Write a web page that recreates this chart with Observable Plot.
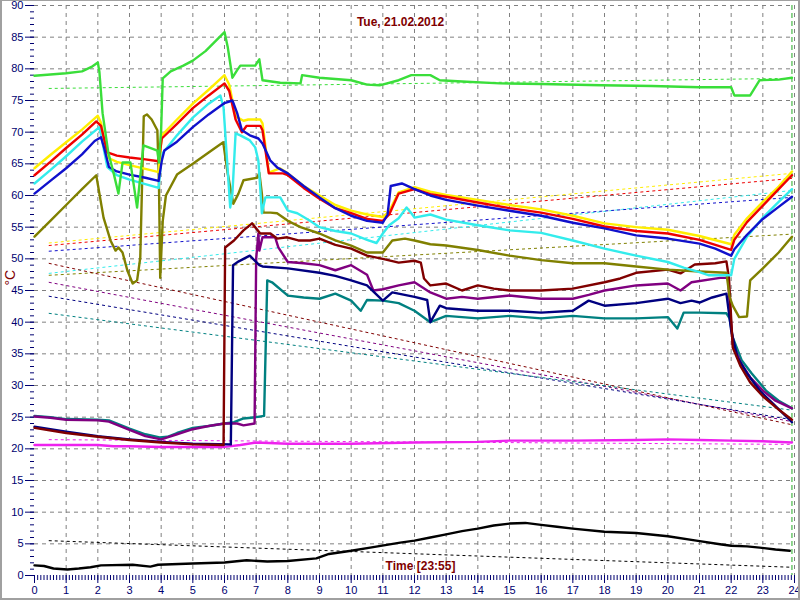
<!DOCTYPE html>
<html><head><meta charset="utf-8">
<script src="https://cdn.jsdelivr.net/npm/d3@7"></script>
<script src="https://cdn.jsdelivr.net/npm/@observablehq/plot@0.6"></script>
<style>
html,body{margin:0;padding:0;background:#fff;}
#wrap{position:relative;width:800px;height:600px;overflow:hidden;background:#fff;}
#wrap svg{display:block;}
#border{position:absolute;left:0;top:0;width:800px;height:600px;box-sizing:border-box;border:2px solid #a0a0a0;border-top-width:1px;pointer-events:none;}
</style></head><body><div id="wrap"><div id="border"></div></div>
<script>
// ---- data (hour, °C) ----
const title = "Tue, 21.02.2012";
const timeLabel = "Time [23:55]";
const cursorHour = 23.92;
const xTicks = d3.range(0, 25);
const yTicks = d3.range(0, 91, 5);

const green = [[0,78.9],[0.5,79.1],[1,79.3],[1.5,79.6],[1.8,80.3],[2.0,81.0],[2.05,79.5],[2.15,73],[2.33,66.8],[2.5,63.5],[2.65,60.3],[2.78,65.2],[3.03,65.2],[3.24,58.1],[3.44,67.9],[3.88,67.1],[3.93,65.2],[4.0,70.5],[4.05,78.5],[4.3,79.6],[4.7,80.5],[5.0,81.3],[5.4,82.8],[5.7,84.3],[6.0,85.8],[6.1,83.5],[6.25,78.6],[6.4,79.8],[6.5,80.5],[6.97,80.5],[7.1,81.5],[7.2,78.2],[7.76,77.8],[8.4,77.7],[8.45,79],[9,78.6],[9.5,78.4],[10,78.2],[10.5,77.5],[10.9,77.4],[11.5,78.2],[11.9,79],[12.5,79],[12.8,78.2],[13.5,78],[14.7,77.7],[16,77.6],[17.9,77.4],[19.5,77.3],[21,77.1],[22,77.1],[22.1,75.8],[22.6,75.8],[22.9,78.2],[23.5,78.3],[23.92,78.6]];
const yellow = [[0,64.3],[0.5,66.4],[1,68.4],[1.5,70.4],[2.0,72.6],[2.1,71.5],[2.3,66],[2.6,65.3],[3.0,64.8],[3.5,64.2],[3.92,63.7],[4.02,69.5],[4.5,72],[5,74.5],[5.5,76.7],[6.0,79],[6.15,77.5],[6.35,72.5],[6.6,71.8],[6.75,72],[7.13,72],[7.2,71.4],[7.4,63.6],[7.75,64.3],[8.0,63.5],[8.5,61.5],[9.0,60],[9.5,58.5],[10.0,57.6],[10.5,57],[11.0,56.6],[11.2,57.5],[11.5,60.5],[12.0,61.3],[12.5,60.6],[13,60.1],[14,59.3],[15,58.5],[16,57.8],[17,56.8],[18,55.6],[19,55],[20,54.6],[21,53.6],[22,52.3],[22.1,53.8],[22.5,56.4],[23,59],[23.5,61.4],[23.92,63.8]];
const red = [[0,63.2],[0.5,65.3],[1,67.5],[1.5,69.6],[1.95,71.7],[2.1,71],[2.3,66.8],[2.6,66.3],[3,66],[3.5,65.7],[3.92,65.4],[4.02,69],[4.5,71.3],[5,73.8],[5.5,75.8],[6,77.7],[6.15,76.5],[6.35,72],[6.55,70],[6.7,71],[7.13,71],[7.2,70.3],[7.4,63.5],[7.85,63.5],[8,63.2],[8.5,61.2],[9,59.5],[9.5,58],[10,57.2],[10.5,56.3],[11,56],[11.2,57],[11.5,60.3],[12,61],[12.5,60.2],[13,59.8],[14,58.9],[15,58],[16,57.3],[17,56.3],[18,55.1],[19,54.4],[20,54],[21,53],[22,51.4],[22.1,53],[22.5,55.8],[23,58.4],[23.5,61],[23.92,63.2]];
const cyan = [[0,61.9],[0.5,64],[1,66.2],[1.5,68.5],[2.05,70.8],[2.3,64.5],[2.6,63.2],[3,62.5],[3.5,61.8],[3.92,61.2],[4.02,66.5],[4.5,69.5],[5,72.3],[5.5,74.5],[5.87,75.8],[5.97,73.9],[6.18,58.1],[6.25,60.3],[6.35,69.8],[6.5,69.5],[6.8,68.7],[6.97,67.6],[7.07,65.5],[7.18,57.2],[7.29,59.7],[7.76,59.7],[8.0,57.6],[8.3,57.2],[8.7,56],[9,55],[9.5,54.4],[10,54],[10.5,53],[10.8,52.5],[11,54],[11.2,55.3],[11.5,56.4],[11.75,58.1],[11.9,57.2],[12,56.5],[12.5,57],[13,56.2],[14,55.3],[15,54.5],[16,54.1],[17,52.9],[18,51.6],[19,50.5],[20,49.5],[20.5,48.6],[21,47.9],[21.3,47.4],[22,47.4],[22.1,50],[22.5,53.5],[23,56.5],[23.5,59],[23.92,61]];
const blue = [[0,60.3],[0.5,62.3],[1,64.3],[1.5,66.5],[1.9,68.6],[2.1,69.2],[2.2,67.5],[2.35,64.5],[2.6,63.8],[3,63.3],[3.5,62.8],[3.92,62.3],[4.02,65.5],[4.1,67.1],[4.5,68.5],[5,70.8],[5.5,72.8],[6,74.6],[6.25,75],[6.4,73],[6.55,70.3],[6.8,69.5],[7.07,69],[7.2,68.2],[7.45,65.5],[7.67,64.4],[8,63.5],[8.5,61.5],[9,59.7],[9.5,58],[10,56.8],[10.5,56],[11,55.7],[11.15,57],[11.25,61.5],[11.6,61.9],[12,61],[12.5,60],[13,59.3],[14,58.4],[15,57.6],[16,56.8],[17,55.7],[18,54.8],[19,53.7],[20,53.2],[21,52.4],[21.5,51.6],[22,50.5],[22.1,51.5],[22.5,53.8],[23,56.3],[23.5,58.2],[23.92,59.8]];
const olive = [[0,53.5],[0.5,56],[1,58.5],[1.5,61],[1.95,63.2],[2.18,56.5],[2.4,52.9],[2.56,51.3],[2.65,51.8],[2.78,51],[2.93,48.2],[3.1,46.1],[3.24,46.6],[3.34,50.2],[3.45,72.5],[3.55,72.8],[3.7,72],[3.88,70.3],[3.93,62],[3.97,47],[4.05,56],[4.15,60],[4.5,63.3],[5,65],[5.5,66.8],[5.96,68.4],[6.1,63.5],[6.28,58.7],[6.44,60.3],[6.6,62.4],[7.03,62.8],[7.1,63.6],[7.18,60.3],[7.23,57.3],[7.45,57.3],[7.66,57.2],[8,56],[8.4,55],[9,54],[9.5,52.9],[10,52.1],[10.5,51],[11,51],[11.3,52.9],[11.7,53.2],[12,52.9],[12.5,52.3],[13,52.1],[14,51.4],[15,50.5],[16,49.8],[17,49.3],[18,49.3],[19,48.8],[20,48.3],[21,48],[21.85,47.8],[21.95,44],[22.05,42.6],[22.25,40.8],[22.5,40.9],[22.6,46.6],[23,48.5],[23.5,51],[23.92,53.5]];
const maroon = [[0,23.3],[1,22.5],[2,21.9],[3,21.4],[4,21],[5,20.7],[5.97,20.6],[6.02,51.8],[6.3,52.9],[6.6,54.5],[6.87,55.6],[7.13,54],[7.45,54],[7.66,53.2],[7.98,53.4],[8.33,52.9],[8.7,52.9],[9,53.2],[9.5,52.2],[10,51.6],[10.5,50.5],[11,50],[11.5,49.4],[12,49.7],[12.2,49.4],[12.3,46.9],[12.5,45.8],[13,46.1],[13.5,45],[14,45.8],[14.5,45.3],[15,45],[16,45],[17,45.3],[18,46.3],[18.5,46.9],[19,47.8],[20,48.3],[20.4,47.7],[20.85,49.1],[21.5,49.3],[21.85,49.6],[21.93,47],[22.05,36],[22.3,33],[22.6,30.5],[23,28.3],[23.5,26.2],[23.92,24.6]];
const purple = [[0,25.1],[0.5,24.9],[1,24.6],[2,24.5],[2.35,24.3],[3,23],[3.5,22],[4,21.5],[4.5,22.3],[5,23.1],[5.5,23.6],[6,24],[6.4,24],[6.6,23.7],[6.95,24],[7.0,50],[7.07,54],[7.1,51.3],[7.2,53.4],[7.6,53.4],[7.7,51.8],[8,49.5],[8.5,49.3],[9,49],[9.5,48.2],[10,49],[10.5,47.5],[10.7,45],[11,45.2],[11.5,45.8],[12,46.3],[12.5,44.7],[13,43.7],[13.5,44],[14,43.7],[15,44.2],[16,43.7],[17,43.7],[17.5,44.3],[18,45],[19,45.8],[20,46.1],[20.4,45],[20.75,46.3],[21.65,47],[21.9,47],[21.96,42.3],[22.05,36.6],[22.3,33.6],[22.6,31.3],[23,29.2],[23.4,27.6],[23.92,26.4]];
const navy = [[0,23.5],[1,22.7],[2,22],[3,21.5],[4,21.1],[5,20.8],[6.2,20.7],[6.27,49],[6.45,49.6],[6.8,50.5],[7.1,49],[7.2,48.8],[8,48.5],[9,47.8],[9.5,47.3],[10,46.6],[10.5,45.8],[11,43.4],[11.3,44.7],[12,44],[12.4,43.5],[12.5,40],[12.8,42.6],[13,42.2],[14,41.8],[15,41.8],[16,41.5],[17,41.8],[17.5,43.4],[18,42.6],[19,43],[20,43.7],[20.4,43],[20.75,43.4],[21,43.1],[21.4,43.9],[21.85,44.5],[22.0,38.7],[22.2,34.4],[22.5,31.9],[22.9,29.2],[23.45,26.5],[23.92,24.2]];
const teal = [[0,25.2],[0.5,25],[1,24.7],[2,24.6],[2.35,24.5],[3,23.2],[3.5,22.3],[3.95,21.8],[4.2,21.9],[4.5,22.5],[5,23.3],[5.5,23.6],[6,24],[6.3,24.2],[6.6,24.8],[7.0,25],[7.25,25.2],[7.35,46.6],[7.5,46.3],[8,44.2],[8.5,43.9],[9,43.7],[9.5,44.5],[10,43.4],[10.3,41.8],[10.5,43.5],[11,43.4],[11.5,43],[12,41.8],[12.5,40],[13,41],[14,40.6],[15,41],[16,40.6],[17,41],[18,40.6],[19,40.6],[20,40.8],[20.3,39],[20.5,41.5],[21,41.5],[21.85,41.4],[21.95,40.6],[22.05,37.6],[22.33,34],[22.65,31.9],[23.1,29.2],[23.5,27.6],[23.92,26.4]];
const magenta = [[0,20.6],[1,20.6],[2,20.6],[2.5,20.4],[3,20.4],[4,20.3],[5,20.3],[6,20.3],[6.5,20.6],[7,21],[8,20.8],[10,20.8],[12,21],[14,21.1],[15,21.3],[17,21.3],[19,21.4],[20,21.5],[21,21.4],[22,21.3],[23,21.2],[23.92,21]];
const black = [[0,1.6],[0.3,1.5],[0.6,1.1],[1.04,0.95],[1.4,1.1],[1.77,1.3],[2.1,1.6],[3.1,1.7],[3.66,1.4],[3.9,1.7],[5,1.9],[6,2.05],[6.7,2.4],[7.35,2.2],[8,2.3],[8.9,2.7],[9.3,3.4],[10,3.9],[10.6,4.4],[11.55,5.2],[12,5.5],[12.5,6],[13,6.5],[13.5,7],[14,7.4],[14.5,7.9],[15,8.2],[15.5,8.3],[16,8],[16.5,7.7],[17,7.4],[18,6.9],[19,6.7],[20,6.2],[20.9,5.5],[21.7,4.9],[22,4.7],[22.5,4.6],[22.9,4.4],[23.4,4.1],[23.85,3.9]];

// straight dashed reference lines: start value (at ~0.45 h) and end value (23.92 h)
const trendNames = ["green","yellow","red","cyan","blue","olive","maroon","purple","navy","teal","magenta","black"];
const trendStart = [76.9, 52.5, 52.1, 47.7, 51.2, 47.4, 49.3, 46.3, 44.1, 41.4, 21.45, 5.5];
const trendEnd   = [78.5, 63.5, 62.7, 60.8, 59.7, 53.9, 23.8, 24.3, 24.6, 26.1, 20.7, 1.3];

const colors = {green:"#3ade3a", yellow:"#ffee00", red:"#ee0000", cyan:"#33ecec", blue:"#1010cc",
  olive:"#808000", maroon:"#800000", purple:"#800080", navy:"#000080", teal:"#008080", magenta:"#ee22ee", black:"#000000"};

const seriesData = {black, magenta, teal, purple, navy, maroon, olive, cyan, yellow, red, blue, green};
const drawOrder = ["black","magenta","teal","purple","navy","maroon","olive","cyan","yellow","red","blue","green"];

const trendRows = trendNames.map((n, i) => ({name: n, h0: 0.45, v0: trendStart[i], h1: cursorHour, v1: trendEnd[i], color: colors[n]}));

const axisColor = "#000070";
const labelColor = "#800000";

const marks = [
  Plot.gridX(d3.range(1, 25), {stroke: "#808080", strokeOpacity: 1, strokeDasharray: "4,4"}),
  Plot.gridY(d3.range(5, 91, 5), {stroke: "#808080", strokeOpacity: 1, strokeDasharray: "4,4"}),
  Plot.axisY(yTicks, {tickSize: 9, tickPadding: 2, color: axisColor, fontSize: 11, label: null}),
  Plot.axisY(d3.range(0, 91), {tickSize: 4, tickFormat: () => "", color: axisColor, label: null}),
  Plot.axisX(xTicks, {tickSize: 8, tickPadding: 3, color: axisColor, fontSize: 11, label: null}),
  Plot.axisX(d3.range(0, 240).map(i => i / 10), {tickSize: 5, tickFormat: () => "", color: axisColor, label: null}),
  Plot.link(trendRows, {x1: "h0", y1: "v0", x2: "h1", y2: "v1", stroke: "color", strokeWidth: 1, strokeDasharray: "3,3"}),
  Plot.ruleX([cursorHour], {stroke: "#22aa22", strokeWidth: 1, strokeDasharray: "5,3"}),
  ...drawOrder.map(n => Plot.line(seriesData[n], {x: d => d[0], y: d => d[1], stroke: colors[n], strokeWidth: 2.4, strokeLinejoin: "round"})),
  Plot.text([title], {frameAnchor: "top", dx: -14, dy: 12, fill: labelColor, fontWeight: "bold", fontSize: 12, fontFamily: "Liberation Sans, Arial, sans-serif"}),
  Plot.text([timeLabel], {frameAnchor: "bottom", dx: 6, dy: -6, fill: labelColor, fontWeight: "bold", fontSize: 12, fontFamily: "Liberation Sans, Arial, sans-serif"}),
  Plot.text(["°C"], {frameAnchor: "left", dx: -24, dy: -5, rotate: -90, fill: labelColor, fontSize: 14, fontFamily: "Liberation Sans, Arial, sans-serif"})
];

const chart = Plot.plot({
  width: 800, height: 600,
  marginLeft: 34, marginRight: 6, marginTop: 5, marginBottom: 25,
  x: {domain: [0, 24], label: null},
  y: {domain: [0, 90], label: null},
  color: {type: "identity"},
  style: {background: "white", fontFamily: "Liberation Sans, Arial, sans-serif", fontSize: "11px"},
  marks
});
document.getElementById("wrap").prepend(chart);
</script>
</body></html>
